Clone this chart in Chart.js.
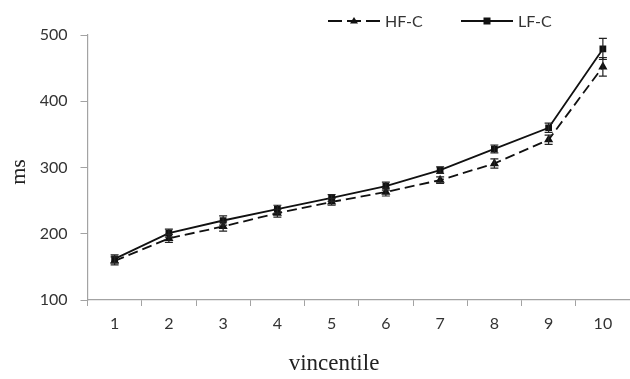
<!DOCTYPE html>
<html>
<head>
<meta charset="utf-8">
<script src="https://cdn.jsdelivr.net/npm/chart.js@4/dist/chart.umd.min.js"></script>
<style>
  html, body { margin: 0; padding: 0; background: #fff; }
  #wrap { width: 630px; height: 379px; }
</style>
</head>
<body>
<div id="wrap"><canvas id="chart" width="630" height="379"></canvas></div>
<script>
// categories + series
const vincentiles = ['1', '2', '3', '4', '5', '6', '7', '8', '9', '10'];
const hfC = [159, 193, 211, 231, 248, 263, 281, 306, 342, 452];
const hfCErr = [6, 6, 7, 6, 5, 6, 5, 7, 7, 14];
const lfC = [162, 201, 220, 237, 254, 272, 296, 328, 360, 479];
const lfCErr = [6, 6, 7, 6, 5, 6, 5, 6, 7, 16];
const yTicks = [100, 200, 300, 400, 500];
const xTitle = 'vincentile';
const yTitle = 'ms';

const axisGrey = '#a3a3a3';
const tickFont = { family: 'Lato', size: 16 };

// error bars drawn through the y scale
const errorBars = {
  id: 'errorBars',
  afterDatasetsDraw(chart) {
    const ctx = chart.ctx;
    const y = chart.scales.y;
    chart.data.datasets.forEach((ds, i) => {
      const meta = chart.getDatasetMeta(i);
      ctx.save();
      ctx.strokeStyle = '#222';
      ctx.lineWidth = 1.2;
      meta.data.forEach((pt, j) => {
        const e = ds.errors[j];
        const top = y.getPixelForValue(ds.data[j] + e);
        const bot = y.getPixelForValue(ds.data[j] - e);
        ctx.beginPath();
        ctx.moveTo(pt.x, top); ctx.lineTo(pt.x, bot);
        ctx.moveTo(pt.x - 4, top); ctx.lineTo(pt.x + 4, top);
        ctx.moveTo(pt.x - 4, bot); ctx.lineTo(pt.x + 4, bot);
        ctx.stroke();
      });
      ctx.restore();
    });
  }
};

// legend like the original (line + marker + text) and the axis titles
const lineLegend = {
  id: 'lineLegend',
  afterDraw(chart) {
    const ctx = chart.ctx;
    const items = [
      { x: 328, text: 'HF-C', dash: [14, 5], marker: 'triangle' },
      { x: 461, text: 'LF-C', dash: [], marker: 'square' }
    ];
    const yMid = 21;
    ctx.save();
    items.forEach(it => {
      ctx.strokeStyle = '#111';
      ctx.lineWidth = 1.8;
      ctx.setLineDash(it.dash);
      ctx.beginPath();
      ctx.moveTo(it.x, yMid); ctx.lineTo(it.x + 52, yMid);
      ctx.stroke();
      ctx.setLineDash([]);
      ctx.fillStyle = '#111';
      const cx = it.x + 26;
      if (it.marker === 'square') {
        ctx.fillRect(cx - 3.5, yMid - 3.5, 7, 7);
      } else {
        ctx.beginPath();
        ctx.moveTo(cx, yMid - 4); ctx.lineTo(cx + 4, yMid + 2.5); ctx.lineTo(cx - 4, yMid + 2.5);
        ctx.closePath(); ctx.fill();
      }
      ctx.fillStyle = '#333';
      ctx.font = '16px Lato';
      ctx.textBaseline = 'middle';
      ctx.fillText(it.text, it.x + 57, yMid + 1);
    });

    // axis titles
    ctx.fillStyle = '#222';
    ctx.font = '23px "Liberation Serif"';
    ctx.textAlign = 'center';
    ctx.textBaseline = 'alphabetic';
    ctx.fillText(xTitle, 334, 370);
    ctx.font = '22px "Liberation Serif"';
    ctx.translate(25, 172);
    ctx.rotate(-Math.PI / 2);
    ctx.fillText(yTitle, 0, 0);
    ctx.restore();
  }
};

new Chart(document.getElementById('chart'), {
  type: 'line',
  data: {
    labels: vincentiles,
    datasets: [
      {
        label: 'HF-C',
        data: hfC,
        errors: hfCErr,
        borderColor: '#111',
        backgroundColor: '#111',
        borderWidth: 1.8,
        borderDash: [10, 5],
        pointStyle: 'triangle',
        pointRadius: 3.5,
        tension: 0
      },
      {
        label: 'LF-C',
        data: lfC,
        errors: lfCErr,
        borderColor: '#111',
        backgroundColor: '#111',
        borderWidth: 1.8,
        pointStyle: 'rect',
        pointRadius: 3.5,
        tension: 0
      }
    ]
  },
  options: {
    responsive: false,
    animation: false,
    layout: { autoPadding: false, padding: { top: 35, left: 0, right: -1, bottom: 0 } },
    plugins: {
      legend: { display: false },
      tooltip: { enabled: false }
    },
    scales: {
      x: {
        offset: true,
        grid: { display: true, drawOnChartArea: false, offset: true, tickLength: 6, color: axisGrey },
        border: { color: axisGrey, width: 1.2 },
        ticks: { color: '#333', font: tickFont, padding: 8 },
        afterFit(scale) {
          scale.height = 79;
          scale.paddingLeft = 0;
          scale.paddingRight = 0;
        }
      },
      y: {
        min: 100,
        max: 500,
        afterBuildTicks(scale) { scale.ticks = yTicks.map(v => ({ value: v })); },
        grid: { display: true, drawOnChartArea: false, tickLength: 7, color: axisGrey },
        border: { color: axisGrey, width: 1.2 },
        ticks: { color: '#333', font: tickFont, padding: 13 },
        afterFit(scale) { scale.width = 87.5; }
      }
    }
  },
  plugins: [errorBars, lineLegend]
});
</script>
</body>
</html>
